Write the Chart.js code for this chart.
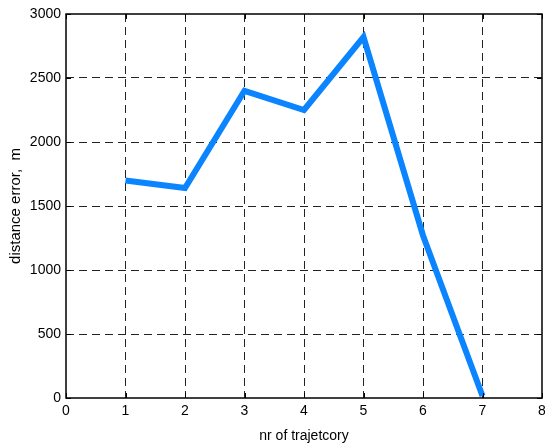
<!DOCTYPE html>
<html>
<head>
<meta charset="utf-8">
<script src="https://cdn.jsdelivr.net/npm/chart.js@4.4.0/dist/chart.umd.min.js"></script>
<style>
  html, body { margin: 0; padding: 0; background: #fff; }
  #wrap { width: 545px; height: 445px; }
</style>
</head>
<body>
<div id="wrap"><canvas id="chart" width="545" height="445"></canvas></div>
<script>
// trajectory number vs distance error (m)
const trajectories = [1, 2, 3, 4, 5, 6, 7];
const distanceError = [1700, 1640, 2400, 2250, 2820, 1270, 15];
const xTicks = [0, 1, 2, 3, 4, 5, 6, 7, 8];
const yTicks = [0, 500, 1000, 1500, 2000, 2500, 3000];

// box around plot area + short inward ticks (matlab style)
const frame = {
    id: 'frame',
    afterDraw(chart) {
        const { ctx, chartArea: a, scales } = chart;
        ctx.save();
        ctx.strokeStyle = '#000';
        ctx.lineWidth = 1;
        ctx.setLineDash([]);
        ctx.beginPath();
        xTicks.forEach(v => {
            const px = Math.round(scales.x.getPixelForValue(v)) + 0.5;
            ctx.moveTo(px, a.bottom); ctx.lineTo(px, a.bottom - 5);
            ctx.moveTo(px, a.top); ctx.lineTo(px, a.top + 5);
        });
        yTicks.forEach(v => {
            const py = Math.round(scales.y.getPixelForValue(v)) + 0.5;
            ctx.moveTo(a.left, py); ctx.lineTo(a.left + 5, py);
            ctx.moveTo(a.right, py); ctx.lineTo(a.right - 5, py);
        });
        ctx.stroke();
        ctx.lineWidth = 1.5;
        ctx.strokeRect(a.left, a.top, a.right - a.left, a.bottom - a.top);
        ctx.restore();
    }
};

const tickFont = { family: 'Liberation Sans, Arial, sans-serif', size: 14 };

new Chart(document.getElementById('chart').getContext('2d'), {
    type: 'scatter',
    data: {
        datasets: [{
            data: trajectories.map((t, i) => ({ x: t, y: distanceError[i] })),
            showLine: true,
            borderColor: '#0a84ff',
            borderWidth: 6,
            pointRadius: 0,
            borderJoinStyle: 'miter',
            tension: 0
        }]
    },
    options: {
        responsive: false,
        animation: false,
        layout: { padding: { left: 7, right: 0, top: 14, bottom: 0 } },
        plugins: { legend: { display: false }, tooltip: { enabled: false } },
        scales: {
            x: {
                type: 'linear',
                min: 0,
                max: 8,
                afterBuildTicks: s => { s.ticks = xTicks.map(v => ({ value: v })); },
                afterFit: s => { s.height = 47; s.paddingLeft = 0; s.paddingRight = 3; },
                grid: {
                    color: c => (c.tick.value === 0 || c.tick.value === 8) ? 'rgba(0,0,0,0)' : '#222',
                    lineWidth: 1,
                    tickLength: 0,
                    drawTicks: false
                },
                border: { display: false, dash: [8, 5] },
                ticks: { color: '#000', font: tickFont, padding: 5, maxRotation: 0, callback: v => String(v) },
                title: { display: true, text: 'nr of trajetcory', color: '#000', font: { family: 'Liberation Sans, Arial, sans-serif', size: 14 }, padding: { top: 1, bottom: 0 } }
            },
            y: {
                min: 0,
                max: 3000,
                afterBuildTicks: s => { s.ticks = yTicks.map(v => ({ value: v })); },
                afterFit: s => { s.width = 59; },
                grid: {
                    color: c => (c.tick.value === 0 || c.tick.value === 3000) ? 'rgba(0,0,0,0)' : '#222',
                    lineWidth: 1,
                    tickLength: 0,
                    drawTicks: false
                },
                border: { display: false, dash: [8, 5] },
                ticks: { color: '#000', font: tickFont, padding: 5, callback: v => String(v) },
                title: { display: true, text: 'distance error,  m', color: '#000', font: { family: 'Liberation Sans, Arial, sans-serif', size: 15 }, padding: { top: 0, bottom: 4 } }
            }
        }
    },
    plugins: [frame]
});
</script>
</body>
</html>
